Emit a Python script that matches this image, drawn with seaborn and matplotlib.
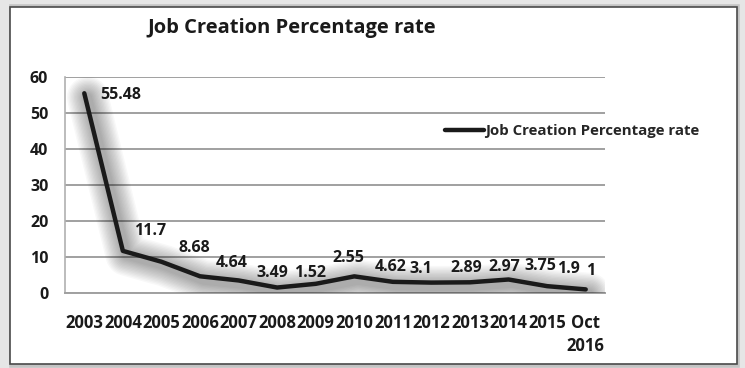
import matplotlib
matplotlib.use("Agg")
import matplotlib.pyplot as plt
import matplotlib.patheffects as pe
from matplotlib.patches import Rectangle
import seaborn as sns
import pandas as pd

# ---- data ----
categories = ["2003", "2004", "2005", "2006", "2007", "2008", "2009",
              "2010", "2011", "2012", "2013", "2014", "2015", "Oct\n2016"]
rates = [55.48, 11.7, 8.68, 4.64, 3.49, 1.52, 2.55,
         4.62, 3.1, 2.89, 2.97, 3.75, 1.9, 1]
series_name = "Job Creation Percentage rate"
title = "Job Creation Percentage rate"
yticks = [0, 10, 20, 30, 40, 50, 60]

# label offsets in pixels (style only)
lab_dx = [36, 27, 33, 32, 34, 33, 33, 36, 28, 35, 34, 32, 21, 5]
lab_dy = [-2, 20, 14, 13, 7, 15, 26, 9, 13, 15, 15, 13, 17, 18]

df = pd.DataFrame({"cat": categories, "rate": rates, "series": series_name})
df["x"] = range(len(df))

sns.set_theme(style="white")
plt.rcParams["font.family"] = ["Open Sans", "DejaVu Sans"]

W, H = 745, 368
fig = plt.figure(figsize=(W / 100, H / 100), dpi=100)
fig.patch.set_facecolor("#e6e6e6")

# outer frame
fig.patches.append(Rectangle((12 / W, 3 / H), 725 / W, 358 / H, transform=fig.transFigure,
                             facecolor="none", edgecolor="#c4c4c4", lw=4, zorder=-2))
fig.patches.append(Rectangle((10 / W, 4 / H), 727 / W, 357 / H, transform=fig.transFigure,
                             facecolor="white", edgecolor="#4a4a4a", lw=1.2, zorder=-1))

ax = fig.add_axes([65 / W, 1 - 293 / H, 540 / W, 216 / H])
ax.set_zorder(2)
ax.set_facecolor("none")

shadow = [pe.SimpleLineShadow(offset=(2.5, -3.0), shadow_color="black",
                              alpha=0.028, linewidth=w) for w in range(30, 5, -2)]
sns.lineplot(data=df, x="x", y="rate", ax=ax, color="#1a1a1a", linewidth=3.2,
             label=series_name, legend=False,
             path_effects=shadow + [pe.Normal()], zorder=3)

ax.set_xlim(-0.5, len(categories) - 0.5)
ax.set_ylim(0, 60)
ax.set_yticks(yticks)
ax.set_yticklabels([str(t) for t in yticks], fontsize=11.5, fontweight="bold", color="#1a1a1a")
ax.set_xticks(df["x"])
ax.set_xticklabels(categories, fontsize=12, fontweight="bold", color="#1a1a1a",
                   linespacing=1.35, va="top")
ax.tick_params(axis="both", length=0)
ax.tick_params(axis="y", pad=12)
ax.tick_params(axis="x", pad=15)
ax.set_xlabel("")
ax.set_ylabel("")
ax.grid(axis="y", color="#a0a0a0", linewidth=1.4)
ax.grid(axis="x", visible=False)
for s in ["top", "right"]:
    ax.spines[s].set_visible(False)
ax.spines["left"].set_color("#b0b0b0")
ax.spines["left"].set_linewidth(1.2)
ax.spines["bottom"].set_color("#a0a0a0")
ax.spines["bottom"].set_linewidth(1.4)

for xi, v, dx, dy in zip(df["x"], rates, lab_dx, lab_dy):
    ax.annotate(f"{v:g}", (xi, v), xytext=(dx, dy), textcoords="offset pixels",
                ha="center", va="center", fontsize=11.5, fontweight="bold",
                color="#1a1a1a", zorder=5, annotation_clip=False)

fig.text(292 / W, 1 - 28 / H, title, ha="center", va="center",
         fontsize=14.5, fontweight="bold", color="#1a1a1a")

handles, labels = ax.get_legend_handles_labels()
leg = fig.legend(handles, labels, loc="center left",
                 bbox_to_anchor=(445 / W, 1 - 131 / H), frameon=False,
                 handlelength=2.6, handletextpad=0.05, borderaxespad=0, borderpad=0,
                 prop={"size": 10.8, "weight": "bold"})
leg.set_zorder(6)
for line in leg.get_lines():
    line.set_path_effects([pe.Normal()])
    line.set_linewidth(3.2)

fig.savefig("out.png", dpi=100, facecolor=fig.get_facecolor())
